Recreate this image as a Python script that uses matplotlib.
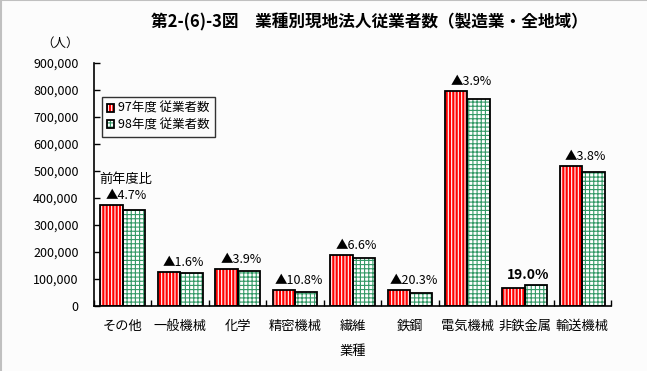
import matplotlib
matplotlib.use("Agg")
import matplotlib.pyplot as plt
import numpy as np
from matplotlib.lines import Line2D
from matplotlib.ticker import FuncFormatter, FixedLocator

plt.rcParams['font.family'] = ['Noto Sans CJK JP', 'DejaVu Sans']
plt.rcParams['hatch.linewidth'] = 0.8

# -------------------------------
# Data
# -------------------------------
categories = ['その他', '一般機械', '化学', '精密機械', '繊維', '鉄鋼', '電気機械', '非鉄金属', '輸送機械']
emp_97 = [374000, 125000, 137000, 59000, 189000, 59000, 796000, 66000, 518000]
emp_98 = [356000, 123000, 131000, 52000, 177000, 47000, 765000, 79000, 497000]
change_labels = ['▲4.7%', '▲1.6%', '▲3.9%', '▲10.8%', '▲6.6%', '▲20.3%', '▲3.9%', '19.0%', '▲3.8%']

red = '#ff0000'
green = '#339966'

fig = plt.figure(figsize=(6.47, 3.71), dpi=100, facecolor='#fcfcfc')
ax = fig.add_axes([94 / 647, 1 - 306 / 371, 517 / 647, (306 - 63) / 371])
ax.set_facecolor('#fcfcfc')

x = np.arange(len(categories))
w = 0.39

# -------------------------------
# Bars: fill pattern layer + black outline layer
# -------------------------------
b97 = ax.bar(x - w / 2, emp_97, w, color=red, edgecolor='white', hatch='|||||', linewidth=0)
b98 = ax.bar(x + w / 2, emp_98, w, color='white', edgecolor=green, hatch='++++', linewidth=0)
o97 = ax.bar(x - w / 2, emp_97, w, fill=False, edgecolor='black', linewidth=1.3)
o98 = ax.bar(x + w / 2, emp_98, w, fill=False, edgecolor='black', linewidth=1.3)

# -------------------------------
# Change labels
# -------------------------------
for i, lab in enumerate(change_labels):
    top = max(emp_97[i], emp_98[i])
    bold = not lab.startswith('▲')
    ax.annotate(lab, (x[i] + 0.06, top), xytext=(0, 2), textcoords='offset points',
                ha='center', va='bottom', fontsize=10 if bold else 9,
                fontweight='bold' if bold else 'normal')
ax.annotate('前年度比', (x[0] + 0.06, max(emp_97[0], emp_98[0])), xytext=(0, 14),
            textcoords='offset points', ha='center', va='bottom', fontsize=9.5)

# -------------------------------
# Axes styling
# -------------------------------
ax.set_xlim(-0.5, len(categories) - 0.5)
ax.set_ylim(0, 900000)
ax.spines['top'].set_visible(False)
ax.spines['right'].set_visible(False)
ax.spines['left'].set_linewidth(1.2)
ax.spines['bottom'].set_linewidth(1.2)

ax.set_yticks(np.arange(0, 900001, 100000))
ax.yaxis.set_major_formatter(FuncFormatter(lambda v, p: f'{int(v):,}'))
ax.tick_params(axis='y', direction='in', length=4, width=1, pad=11, labelsize=9)

ax.set_xticks(x)
ax.set_xticklabels(categories, fontsize=9.5)
ax.tick_params(axis='x', which='major', length=0, pad=10)
ax.xaxis.set_minor_locator(FixedLocator(np.arange(-0.5, len(categories), 1.0)))
ax.tick_params(axis='x', which='minor', direction='in', length=4, width=1)
ax.set_xlabel('業種', fontsize=9.5, labelpad=9)

# -------------------------------
# Legend
# -------------------------------
leg = ax.legend([(b97[0], o97[0]), (b98[0], o98[0])], ['97年度 従業者数', '98年度 従業者数'],
                loc='upper left', bbox_to_anchor=(102 / 647, 1 - 97 / 371),
                bbox_transform=fig.transFigure, fontsize=9, frameon=True, fancybox=False,
                edgecolor='black', handlelength=0.6, handleheight=0.6, handletextpad=0.3,
                borderpad=0.4, labelspacing=0.3, borderaxespad=0)
leg.get_frame().set_linewidth(1.0)
leg.get_frame().set_facecolor('#fcfcfc')

# -------------------------------
# Titles and unit label
# -------------------------------
fig.text(369 / 647, 1 - 22 / 371, '第2-(6)-3図　業種別現地法人従業者数（製造業・全地域）',
         ha='center', va='center', fontsize=12, fontweight='bold')
fig.text(60 / 647, 1 - 43 / 371, '（人）', ha='center', va='center', fontsize=9)

# gray frame on top and left edges
fig.add_artist(Line2D([0, 1], [0.999, 0.999], transform=fig.transFigure, color='#c0c0c0', linewidth=1.5))
fig.add_artist(Line2D([0.0008, 0.0008], [0, 1], transform=fig.transFigure, color='#c0c0c0', linewidth=1.5))

plt.savefig('out.png', dpi=100, facecolor=fig.get_facecolor())
